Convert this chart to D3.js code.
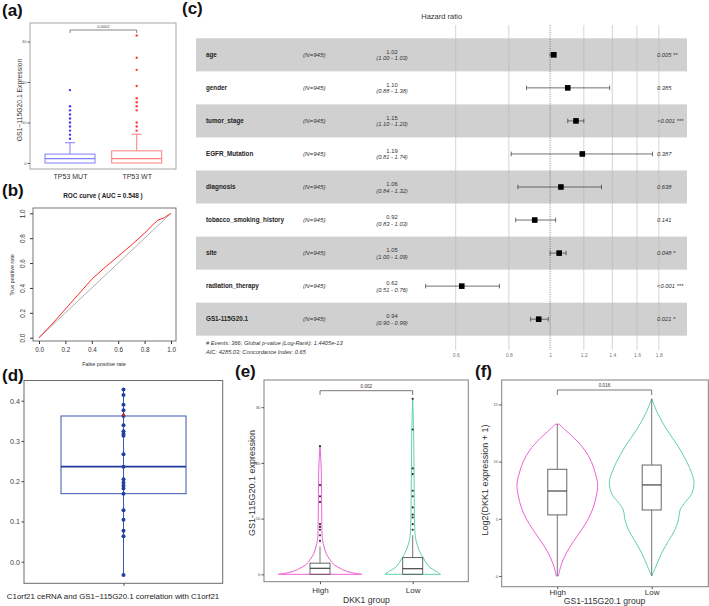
<!DOCTYPE html>
<html><head><meta charset="utf-8">
<script src="https://cdn.jsdelivr.net/npm/d3@7"></script>
<style>
body{margin:0;background:#fff;}
svg{display:block;font-family:"Liberation Sans",Arial,sans-serif;}
</style></head><body>
<script>
// ================= DATA =================
// (a) TP53 boxplot
const aGroups = ["TP53 MUT", "TP53 WT"];
const aQ1 = [0, 0];
const aMedian = [1.1, 1.1];
const aQ3 = [2.2, 3.0];
const aWhiskerLo = [0, 0];
const aWhiskerHi = [5, 7.1];
const aOutliersMut = [6, 7, 8, 9, 10, 11, 12, 13, 14, 18];
const aOutliersWT = [8, 9, 10, 13, 14, 15, 16, 19, 23, 26, 31.5];
const aTicks = [0, 10, 20, 30];
const aPvalue = "0.0002";

// (b) ROC curve
const bFPR = [0, 0.1, 0.2, 0.3, 0.4, 0.5, 0.6, 0.7, 0.8, 0.85, 0.9, 0.95, 1.0];
const bTPR = [0, 0.11, 0.23, 0.35, 0.47, 0.565, 0.655, 0.745, 0.84, 0.895, 0.945, 0.965, 1.0];
const bTicks = [0, 0.2, 0.4, 0.6, 0.8, 1.0];
const bAUC = "0.548";

// (c) forest plot
const cVars = ["age", "gender", "tumor_stage", "EGFR_Mutation", "diagnosis",
  "tobacco_smoking_history", "site", "radiation_therapy", "GS1-115G20.1"];
const cN = [945, 945, 945, 945, 945, 945, 945, 945, 945];
const cHR = [1.02, 1.10, 1.15, 1.19, 1.06, 0.92, 1.05, 0.62, 0.94];
const cLow = [1.00, 0.88, 1.10, 0.81, 0.84, 0.83, 1.00, 0.51, 0.90];
const cHigh = [1.03, 1.38, 1.20, 1.74, 1.32, 1.03, 1.09, 0.76, 0.99];
const cP = ["0.005 **", "0.385", "<0.001 ***", "0.387", "0.638", "0.141", "0.048 *", "<0.001 ***", "0.021 *"];
const cTicks = [0.6, 0.8, 1, 1.2, 1.4, 1.6, 1.8];
const cNote1 = "# Events: 366; Global p-value (Log-Rank): 1.4405e-13";
const cNote2 = "AIC: 4285.03; Concordance Index: 0.65";

// (d) correlation box + dots
const dValues = [0.428, 0.414, 0.390, 0.376, 0.362, 0.339, 0.324, 0.318, 0.313, 0.267, 0.236,
  0.205, 0.196, 0.189, 0.182, 0.169, 0.128, 0.104, 0.077, 0.063, -0.033];
const dHighlight = [0.365];
const dQ1 = 0.169, dMedian = 0.236, dQ3 = 0.362, dMin = -0.033, dMax = 0.428;
const dTicks = [0, 0.1, 0.2, 0.3, 0.4];
const dLabel = "C1orf21 ceRNA and GS1\u2212115G20.1 correlation with C1orf21";

// (e) GS1-115G20.1 expression by DKK1 group (violin)
const eGroups = ["High", "Low"];
const eHighViolinY = [0, 0.3, 0.65, 1.1, 1.7, 2.6, 3.8, 5, 6.2, 10, 16, 20, 23];
const eHighViolinW = [1, 0.76, 0.6, 0.48, 0.34, 0.24, 0.144, 0.096, 0.06, 0.043, 0.036, 0.024, 0];
const eLowViolinY = [0, 0.6, 1.3, 2.1, 3.0, 3.9, 5.6, 7, 10, 15, 20, 25, 31.5];
const eLowViolinW = [0.667, 0.55, 0.40, 0.32, 0.25, 0.18, 0.096, 0.06, 0.043, 0.036, 0.029, 0.024, 0];
const eQ1 = [0, 0], eMedian = [1.08, 1.0], eQ3 = [2.0, 3.0], eWhiskerHi = [5.0, 7.0];
const eHighOutliers = [6, 7, 8, 8.5, 9, 13, 14, 16, 23];
const eLowOutliers = [8, 9, 10.2, 10.7, 12, 14, 15, 18, 19, 26, 31.5];
const eTicks = [0, 10, 20, 30];
const ePvalue = "0.002";

// (f) DKK1 expression by GS1-115G20.1 group (violin)
const fGroups = ["High", "Low"];
const fHighViolinY = [0, 1, 2, 3, 4, 5, 6, 7, 8, 9, 10, 11, 12, 12.8, 13.27];
const fHighViolinW = [0.024, 0.095, 0.213, 0.378, 0.567, 0.733, 0.851, 0.922, 0.953, 0.898, 0.804, 0.650, 0.414, 0.177, 0.047];
const fLowViolinY = [0, 0.8, 2, 3.1, 4, 4.9, 5.8, 6.5, 7.2, 8.2, 9, 10, 11.3, 12.8, 14.2, 15.5];
const fLowViolinW = [0, 0.095, 0.236, 0.402, 0.544, 0.631, 0.674, 0.804, 0.946, 1, 0.946, 0.827, 0.631, 0.355, 0.142, 0];
const fQ1 = [5.34, 5.77], fMedian = [7.43, 7.96], fQ3 = [9.33, 9.7], fWhiskerLo = [0, 0], fWhiskerHi = [13.27, 15.5];
const fTicks = [0, 5, 10, 15];
const fPvalue = "0.016";

// ================= DRAW =================
const FONT = '"Liberation Sans", Arial, sans-serif';
const svg = d3.select("body").append("svg").attr("width", 709).attr("height", 606);
svg.append("rect").attr("width", 709).attr("height", 606).attr("fill", "#fff");

function txt(g, x, y, s, o = {}) {
  const t = g.append("text").attr("x", x).attr("y", y).text(s)
    .attr("font-size", o.size || 7).attr("fill", o.fill || "#222")
    .attr("text-anchor", o.anchor || "start");
  if (o.weight) t.attr("font-weight", o.weight);
  if (o.italic) t.attr("font-style", "italic");
  if (o.rotate) t.attr("transform", `rotate(-90,${x},${y})`);
  return t;
}
function styleAxis(g, size, color) {
  g.attr("font-family", FONT).attr("font-size", size);
  g.select(".domain").remove();
  g.selectAll(".tick line").attr("stroke", color);
  g.selectAll(".tick text").attr("fill", color);
}
function zip(a, b) { return a.map((v, i) => [v, b[i]]); }

// panel labels
const lab = [["(a)", 2, 16], ["(b)", 2, 196], ["(c)", 182, 14], ["(d)", 2, 381], ["(e)", 235, 377], ["(f)", 475, 377]];
lab.forEach(([s, x, y]) => txt(svg, x, y, s, { size: 17, weight: "bold", fill: "#111" }));

// ---------- (a) ----------
{
  const g = svg.append("g");
  const L = 30, R = 176, T = 23, B = 169;
  const x = d3.scalePoint().domain(aGroups).range([70, 136.7]);
  const y = d3.scaleLinear().domain([0, 30]).range([163, 41.5]);
  g.append("rect").attr("x", L).attr("y", T).attr("width", R - L).attr("height", B - T)
    .attr("fill", "none").attr("stroke", "#a6a6a6").attr("stroke-width", 1);
  const ya = g.append("g").attr("transform", `translate(${L},0)`)
    .call(d3.axisLeft(y).tickValues(aTicks).tickSize(2.5).tickPadding(1));
  styleAxis(ya, 4, "#555");
  const xa = g.append("g").attr("transform", `translate(0,${B})`)
    .call(d3.axisBottom(x).tickSize(0).tickPadding(5));
  styleAxis(xa, 7, "#333");
  txt(g, 22, 100, "GS1\u2212115G20.1 Expression", { size: 6.8, anchor: "middle", rotate: true, fill: "#333" });
  const stroke = ["#7e7eff", "#ff7e7e"], ptc = ["#3b3bff", "#ff3f3f"];
  const outs = [aOutliersMut, aOutliersWT];
  aGroups.forEach((gr, i) => {
    const cx = x(gr), hw = 25;
    g.append("line").attr("x1", cx).attr("x2", cx).attr("y1", y(aQ3[i])).attr("y2", y(aWhiskerHi[i]))
      .attr("stroke", stroke[i]).attr("stroke-width", 1);
    g.append("line").attr("x1", cx - 5).attr("x2", cx + 5).attr("y1", y(aWhiskerHi[i])).attr("y2", y(aWhiskerHi[i]))
      .attr("stroke", stroke[i]).attr("stroke-width", 1);
    g.append("rect").attr("x", cx - hw).attr("width", 2 * hw).attr("y", y(aQ3[i]))
      .attr("height", y(aQ1[i]) - y(aQ3[i])).attr("fill", "none").attr("stroke", stroke[i]).attr("stroke-width", 1);
    g.append("line").attr("x1", cx - hw).attr("x2", cx + hw).attr("y1", y(aMedian[i])).attr("y2", y(aMedian[i]))
      .attr("stroke", stroke[i]).attr("stroke-width", 1.2);
    g.selectAll(null).data(outs[i]).enter().append("circle")
      .attr("cx", cx).attr("cy", d => y(d)).attr("r", 1.2).attr("fill", ptc[i]);
  });
  g.append("path").attr("d", `M${x(aGroups[0])},33 V30 H${x(aGroups[1])} V33`)
    .attr("fill", "none").attr("stroke", "#555").attr("stroke-width", 0.7);
  txt(g, (x(aGroups[0]) + x(aGroups[1])) / 2, 28, aPvalue, { size: 4, anchor: "middle", fill: "#444" });
}

// ---------- (b) ----------
{
  const g = svg.append("g");
  const L = 33, R = 176, T = 208, B = 341;
  const x = d3.scaleLinear().domain([0, 1]).range([39, 171]);
  const y = d3.scaleLinear().domain([0, 1]).range([337.7, 213.3]);
  g.append("rect").attr("x", L).attr("y", T).attr("width", R - L).attr("height", B - T)
    .attr("fill", "none").attr("stroke", "#555").attr("stroke-width", 0.8);
  g.append("line").attr("x1", x(0)).attr("y1", y(0)).attr("x2", x(1)).attr("y2", y(1))
    .attr("stroke", "#9a9a9a").attr("stroke-width", 0.8);
  g.append("path").datum(zip(bFPR, bTPR))
    .attr("d", d3.line().x(d => x(d[0])).y(d => y(d[1])))
    .attr("fill", "none").attr("stroke", "#ff2a2a").attr("stroke-width", 1);
  const xa = g.append("g").attr("transform", `translate(0,${B})`)
    .call(d3.axisBottom(x).tickValues(bTicks).tickFormat(d3.format(".1f")).tickSize(3).tickPadding(3.5));
  styleAxis(xa, 6.3, "#333");
  const ya = g.append("g").attr("transform", `translate(${L},0)`)
    .call(d3.axisLeft(y).tickValues(bTicks).tickFormat(d3.format(".1f")).tickSize(3));
  styleAxis(ya, 6.3, "#333");
  ya.selectAll(".tick text").attr("x", 0).attr("dy", 0).attr("text-anchor", "middle")
    .attr("transform", "translate(-8,0) rotate(-90)");
  txt(g, 103, 198, `ROC curve ( AUC =  ${bAUC} )`, { size: 6.4, weight: "bold", anchor: "middle", fill: "#222" });
  txt(g, 104, 366, "False positive rate", { size: 5.4, anchor: "middle", fill: "#333" });
  txt(g, 14, 275, "True positive rate", { size: 5.4, anchor: "middle", rotate: true, fill: "#333" });
}

// ---------- (c) ----------
{
  const g = svg.append("g");
  const x = d3.scaleLog().domain([0.6, 1.8]).range([455.7, 658.8]);
  const y = d3.scaleBand().domain(cVars).range([38.3, 335.7]);
  const bw = y.bandwidth();
  txt(g, 441.7, 19, "Hazard ratio", { size: 7.5, anchor: "middle", fill: "#333" });
  cVars.forEach((v, i) => {
    if (i % 2 === 0) g.append("rect").attr("x", 196).attr("width", 491).attr("y", y(v)).attr("height", bw).attr("fill", "#d0d0d0");
  });
  cTicks.filter(t => t !== 1).forEach(t => {
    g.append("line").attr("x1", x(t)).attr("x2", x(t)).attr("y1", 25).attr("y2", 350)
      .attr("stroke", "#b9b9b9").attr("stroke-width", 0.6);
  });
  g.append("line").attr("x1", x(1)).attr("x2", x(1)).attr("y1", 25).attr("y2", 350)
    .attr("stroke", "#555").attr("stroke-width", 0.7).attr("stroke-dasharray", "1,1.3");
  const xa = g.append("g").attr("transform", "translate(0,350)")
    .call(d3.axisBottom(x).tickValues(cTicks).tickFormat(d3.format("~g")).tickSize(0).tickPadding(3.2));
  styleAxis(xa, 5, "#777");
  cVars.forEach((v, i) => {
    const cy = y(v) + bw / 2;
    txt(g, 206, cy + 2, v, { size: 6.3, weight: "bold", fill: "#222" });
    txt(g, 303, cy + 2, `(N=${cN[i]})`, { size: 6.2, italic: true, fill: "#333" });
    txt(g, 392, cy - 1, cHR[i].toFixed(2), { size: 5.8, anchor: "middle", fill: "#333" });
    txt(g, 392, cy + 5.5, `(${cLow[i].toFixed(2)} - ${cHigh[i].toFixed(2)})`, { size: 5.8, anchor: "middle", italic: true, fill: "#333" });
    txt(g, 657, cy + 2, cP[i], { size: 5.8, italic: true, fill: "#333" });
    g.append("line").attr("x1", x(cLow[i])).attr("x2", x(cHigh[i])).attr("y1", cy).attr("y2", cy)
      .attr("stroke", "#333").attr("stroke-width", 0.7);
    [cLow[i], cHigh[i]].forEach(e => g.append("line").attr("x1", x(e)).attr("x2", x(e))
      .attr("y1", cy - 2.3).attr("y2", cy + 2.3).attr("stroke", "#333").attr("stroke-width", 0.7));
    g.append("rect").attr("x", x(cHR[i]) - 2.8).attr("y", cy - 2.8).attr("width", 5.6).attr("height", 5.6).attr("fill", "#000");
  });
  txt(g, 206, 344.5, cNote1, { size: 5.7, italic: true, fill: "#333" });
  txt(g, 206, 353.5, cNote2, { size: 5.7, italic: true, fill: "#333" });
}

// ---------- (d) ----------
{
  const g = svg.append("g");
  const L = 24, R = 222.7, T = 380.5, B = 583.3;
  const y = d3.scaleLinear().domain([0, 0.4]).range([561.7, 400.7]);
  const x = d3.scalePoint().domain([dLabel]).range([123.5, 123.5]);
  g.append("rect").attr("x", L).attr("y", T).attr("width", R - L).attr("height", B - T)
    .attr("fill", "none").attr("stroke", "#6b6b6b").attr("stroke-width", 1);
  const ya = g.append("g").attr("transform", `translate(${L},0)`)
    .call(d3.axisLeft(y).tickValues(dTicks).tickFormat(d3.format(".1f")).tickSize(2.5).tickPadding(1.5));
  styleAxis(ya, 7.2, "#444");
  const xa = g.append("g").attr("transform", `translate(0,${B})`)
    .call(d3.axisBottom(x).tickSize(2.5).tickFormat(""));
  styleAxis(xa, 7, "#444");
  const cx = x(dLabel), bc = "#3b57b4";
  g.append("line").attr("x1", cx).attr("x2", cx).attr("y1", y(dMin)).attr("y2", y(dMax))
    .attr("stroke", bc).attr("stroke-width", 1);
  g.append("rect").attr("x", 61).attr("width", 125).attr("y", y(dQ3)).attr("height", y(dQ1) - y(dQ3))
    .attr("fill", "none").attr("stroke", bc).attr("stroke-width", 1);
  g.append("line").attr("x1", 61).attr("x2", 186).attr("y1", y(dMedian)).attr("y2", y(dMedian))
    .attr("stroke", "#1d3a98").attr("stroke-width", 1.8);
  g.selectAll(null).data(dValues).enter().append("circle")
    .attr("cx", cx).attr("cy", d => y(d)).attr("r", 2).attr("fill", "#22409f");
  g.selectAll(null).data(dHighlight).enter().append("circle")
    .attr("cx", cx).attr("cy", d => y(d)).attr("r", 1.5).attr("fill", "#d0202a");
  txt(g, 113, 599, dLabel, { size: 7.9, anchor: "middle", fill: "#222" });
}

// violin helper
function violinPanel(o) {
  const g = svg.append("g");
  g.append("rect").attr("x", o.L).attr("y", o.T).attr("width", o.R - o.L).attr("height", o.B - o.T)
    .attr("fill", "none").attr("stroke", "#808080").attr("stroke-width", 1);
  const ya = g.append("g").attr("transform", `translate(${o.L},0)`)
    .call(d3.axisLeft(o.y).tickValues(o.ticks).tickSize(2.5).tickPadding(1));
  styleAxis(ya, 4.3, "#555");
  const xa = g.append("g").attr("transform", `translate(0,${o.B})`)
    .call(d3.axisBottom(o.x).tickSize(2.5).tickPadding(o.tickPad));
  styleAxis(xa, 8, "#333");
  xa.selectAll(".tick line").attr("stroke", "#555");
  const colors = ["#ef5fd9", "#5fd1a9"];
  o.groups.forEach((gr, i) => {
    const cx = o.x(gr);
    const area = d3.area().curve(d3.curveCatmullRom)
      .y(d => o.y(d[0])).x0(d => cx - o.w(d[1])).x1(d => cx + o.w(d[1]));
    g.append("path").datum(o.violins[i]).attr("d", area)
      .attr("fill", "none").attr("stroke", colors[i]).attr("stroke-width", 1);
  });
  o.groups.forEach((gr, i) => {
    const cx = o.x(gr), hw = o.boxW / 2;
    g.append("line").attr("x1", cx).attr("x2", cx).attr("y1", o.y(o.lo[i])).attr("y2", o.y(o.q1[i]))
      .attr("stroke", "#666").attr("stroke-width", 0.9);
    g.append("line").attr("x1", cx).attr("x2", cx).attr("y1", o.y(o.q3[i])).attr("y2", o.y(o.hi[i]))
      .attr("stroke", "#666").attr("stroke-width", 0.9);
    g.append("rect").attr("x", cx - hw).attr("width", o.boxW).attr("y", o.y(o.q3[i]))
      .attr("height", o.y(o.q1[i]) - o.y(o.q3[i])).attr("fill", "none").attr("stroke", "#555").attr("stroke-width", 0.9);
    g.append("line").attr("x1", cx - hw).attr("x2", cx + hw).attr("y1", o.y(o.med[i])).attr("y2", o.y(o.med[i]))
      .attr("stroke", "#333").attr("stroke-width", 1.1);
    if (o.outliers) g.selectAll(null).data(o.outliers[i]).enter().append("circle")
      .attr("cx", cx).attr("cy", d => o.y(d)).attr("r", 1.1).attr("fill", "#333");
  });
  const x1 = o.x(o.groups[0]), x2 = o.x(o.groups[1]);
  g.append("path").attr("d", `M${x1},395 V${o.bracketY} H${x2} V395`)
    .attr("fill", "none").attr("stroke", "#555").attr("stroke-width", 0.8);
  txt(g, (x1 + x2) / 2, o.bracketY - 3, o.p, { size: 4.6, anchor: "middle", fill: "#333" });
  txt(g, o.ylabX, o.ylabY, o.ylab, { size: 9, anchor: "middle", rotate: true, fill: "#333" });
  txt(g, (x1 + x2) / 2, o.xlabBase, o.xlab, { size: 8.6, anchor: "middle", fill: "#333" });
}

// ---------- (e) ----------
violinPanel({
  L: 264, R: 468.3, T: 380, B: 581.7,
  x: d3.scalePoint().domain(eGroups).range([320, 412.7]),
  y: d3.scaleLinear().domain([0, 30]).range([574.3, 407.2]),
  w: d3.scaleLinear().domain([0, 1]).range([0, 41.7]),
  ticks: eTicks, groups: eGroups, tickPad: 3.5,
  violins: [zip(eHighViolinY, eHighViolinW), zip(eLowViolinY, eLowViolinW)],
  q1: eQ1, med: eMedian, q3: eQ3, lo: [0, 0], hi: eWhiskerHi, boxW: 20,
  outliers: [eHighOutliers, eLowOutliers],
  bracketY: 390.7, p: ePvalue,
  ylab: "GS1-115G20.1 expression", ylabX: 254.5, ylabY: 483,
  xlab: "DKK1 group", xlabBase: 602.5
});

// ---------- (f) ----------
violinPanel({
  L: 501.7, R: 708.3, T: 380, B: 586.7,
  x: d3.scalePoint().domain(fGroups).range([557.3, 651.7]),
  y: d3.scaleLinear().domain([0, 15]).range([576, 404.4]),
  w: d3.scaleLinear().domain([0, 1]).range([0, 42.3]),
  ticks: fTicks, groups: fGroups, tickPad: 0.5,
  violins: [zip(fHighViolinY, fHighViolinW), zip(fLowViolinY, fLowViolinW)],
  q1: fQ1, med: fMedian, q3: fQ3, lo: fWhiskerLo, hi: fWhiskerHi, boxW: 19,
  outliers: null,
  bracketY: 390, p: fPvalue,
  ylab: "Log2(DKK1 expression + 1)", ylabX: 488, ylabY: 480,
  xlab: "GS1-115G20.1 group", xlabBase: 603.5
});
</script>
</body></html>
